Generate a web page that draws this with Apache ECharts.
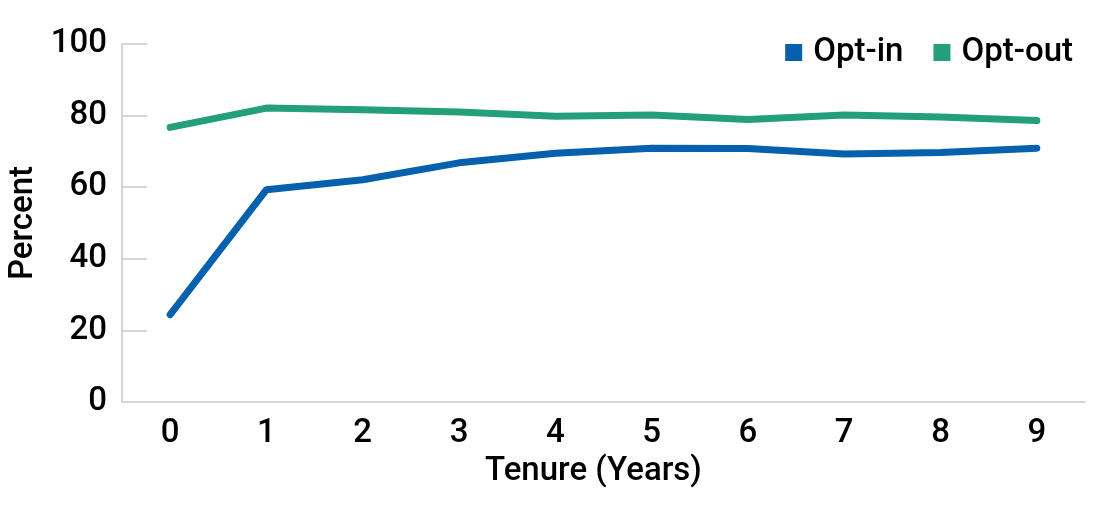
<!DOCTYPE html>
<html><head><meta charset="utf-8">
<script src="https://cdn.jsdelivr.net/npm/echarts@6/dist/echarts.min.js"></script>
<style>html,body{margin:0;padding:0;background:#fff}#c{width:1100px;height:514px}</style>
</head><body><div id="c"></div>
<script>
const categories = ['0','1','2','3','4','5','6','7','8','9'];
const optIn = [24.4, 59.3, 62.1, 66.8, 69.5, 70.9, 70.8, 69.3, 69.7, 70.9];
const optOut = [76.7, 82.1, 81.6, 81.0, 79.8, 80.2, 78.9, 80.2, 79.6, 78.6];
const yTicks = [0, 20, 40, 60, 80, 100];

const chart = echarts.init(document.getElementById('c'), null, {renderer: 'canvas'});
const font = 'Roboto';
const fw = 500;
const fs = 33;
chart.setOption({
  animation: false,
  textStyle: {fontFamily: font},
  legend: {
    right: 27, top: 36, padding: 0, itemWidth: 17, itemHeight: 17, itemGap: 30, icon: 'rect',
    textStyle: {fontSize: fs, fontWeight: fw, color: '#000', fontFamily: font, padding: [0,0,0,6]},
    data: ['Opt-in', 'Opt-out']
  },
  grid: {left: 122, right: 15, top: 44, bottom: 112, containLabel: false, outerBoundsMode: 'none'},
  xAxis: {
    type: 'category', data: categories, boundaryGap: true,
    name: 'Tenure (Years)', nameLocation: 'middle', nameGap: 48,
    nameTextStyle: {fontSize: fs, fontWeight: fw, color: '#000', fontFamily: font, padding: [0, 20, 0, 0]},
    axisLine: {show: true, lineStyle: {color: '#d3d6db', width: 2}},
    axisTick: {show: false},
    axisLabel: {fontSize: fs, fontWeight: fw, color: '#000', margin: 15, fontFamily: font}
  },
  yAxis: {
    type: 'value', min: yTicks[0], max: yTicks[yTicks.length-1], interval: 20,
    name: 'Percent', nameLocation: 'middle', nameGap: 75, nameRotate: 90,
    nameTextStyle: {fontSize: fs, fontWeight: fw, color: '#000', fontFamily: font},
    axisLine: {show: true, lineStyle: {color: '#d3d6db', width: 2}},
    axisTick: {show: true, inside: true, length: 25, lineStyle: {color: '#d3d6db', width: 2}},
    splitLine: {show: false},
    axisLabel: {fontSize: fs, fontWeight: fw, color: '#000', margin: 15, fontFamily: font}
  },
  series: [
    {name: 'Opt-in', type: 'line', data: optIn, symbol: 'none', color: '#0560ad',
     lineStyle: {width: 7, cap: 'round', join: 'round'}},
    {name: 'Opt-out', type: 'line', data: optOut, symbol: 'none', color: '#239f7b',
     lineStyle: {width: 7, cap: 'round', join: 'round'}}
  ]
});
</script></body></html>
